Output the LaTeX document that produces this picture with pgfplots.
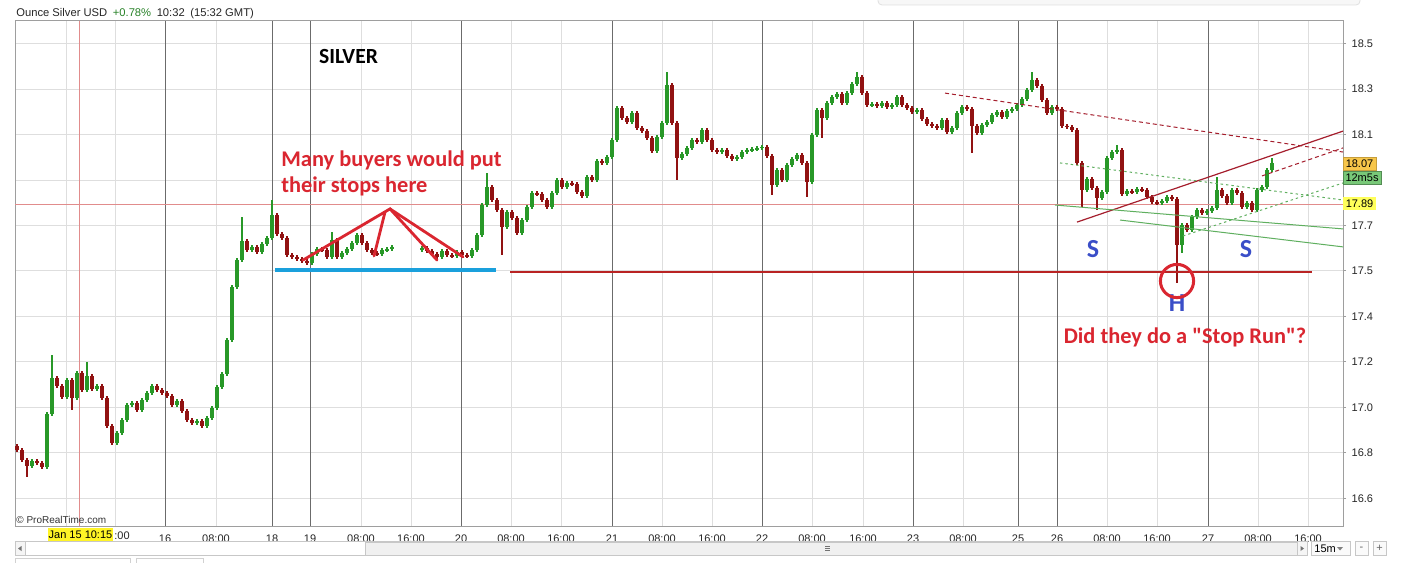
\documentclass[border=0pt]{standalone}
\usepackage{pgfplots}
\pgfplotsset{compat=1.18}
\usepackage{pgfplotstable}
\usepackage{fontspec}
\setmainfont{Liberation Sans}
\newfontfamily\calibri{Carlito}
\definecolor{upg}{RGB}{40,152,40}
\definecolor{dnr}{RGB}{145,18,18}
\definecolor{hdrgreen}{RGB}{40,130,40}
\definecolor{annred}{RGB}{218,38,48}
\definecolor{sblue}{RGB}{58,78,200}
\definecolor{trend}{RGB}{165,30,45}
\definecolor{tgreen}{RGB}{95,175,95}
\definecolor{hline}{RGB}{185,35,35}
\definecolor{cross}{RGB}{225,140,140}
\definecolor{stopblue}{RGB}{26,160,220}
\definecolor{boxorange}{RGB}{247,198,74}
\definecolor{boxgreen}{RGB}{120,200,120}
\definecolor{boxyellow}{RGB}{255,255,90}

\pgfplotstableread{
x o h l c
0 16.830 16.838 16.804 16.812
1 16.812 16.820 16.760 16.768
2 16.768 16.776 16.693 16.742
3 16.742 16.772 16.734 16.764
4 16.764 16.772 16.747 16.755
5 16.755 16.763 16.729 16.737
6 16.737 16.978 16.729 16.970
7 16.970 17.230 16.962 17.129
8 17.129 17.137 17.086 17.094
9 17.094 17.102 17.037 17.045
10 17.045 17.128 17.037 17.120
11 17.120 17.128 16.988 17.041
12 17.041 17.159 17.033 17.151
13 17.151 17.159 17.068 17.076
14 17.076 17.199 17.068 17.138
15 17.138 17.146 17.072 17.080
16 17.080 17.102 17.072 17.094
17 17.094 17.102 17.033 17.041
18 17.041 17.049 16.910 16.918
19 16.918 16.926 16.835 16.843
20 16.843 16.895 16.835 16.887
21 16.887 16.952 16.879 16.944
22 16.944 17.018 16.936 17.010
23 17.010 17.027 17.002 17.019
24 17.019 17.027 16.980 16.988
25 16.988 17.040 16.980 17.032
26 17.032 17.071 17.024 17.063
27 17.063 17.102 17.055 17.094
28 17.094 17.102 17.068 17.076
29 17.076 17.084 17.055 17.063
30 17.063 17.071 17.042 17.050
31 17.050 17.058 17.002 17.010
32 17.010 17.036 17.002 17.028
33 17.028 17.036 16.976 16.984
34 16.984 16.992 16.936 16.944
35 16.944 16.952 16.923 16.931
36 16.931 16.948 16.923 16.940
37 16.940 16.948 16.910 16.918
38 16.918 16.961 16.910 16.953
39 16.953 17.005 16.945 16.997
40 16.997 17.097 16.989 17.089
41 17.089 17.154 17.081 17.146
42 17.146 17.304 17.138 17.296
43 17.296 17.537 17.288 17.529
44 17.529 17.656 17.521 17.648
45 17.648 17.837 17.640 17.732
46 17.732 17.740 17.684 17.692
47 17.692 17.713 17.684 17.705
48 17.705 17.713 17.675 17.683
49 17.683 17.726 17.675 17.718
50 17.718 17.753 17.710 17.745
51 17.745 17.912 17.737 17.846
52 17.846 17.854 17.754 17.762
53 17.762 17.770 17.737 17.745
54 17.745 17.753 17.662 17.670
55 17.670 17.678 17.653 17.661
56 17.661 17.669 17.644 17.652
57 17.652 17.660 17.636 17.644
58 17.644 17.652 17.627 17.635
59 17.635 17.682 17.627 17.674
60 17.674 17.704 17.666 17.696
61 17.696 17.704 17.684 17.692
62 17.692 17.700 17.653 17.661
63 17.661 17.771 17.653 17.736
64 17.736 17.744 17.653 17.661
65 17.661 17.687 17.653 17.679
66 17.679 17.704 17.671 17.696
67 17.696 17.731 17.688 17.723
68 17.723 17.766 17.715 17.758
69 17.758 17.766 17.715 17.723
70 17.723 17.731 17.684 17.692
71 17.692 17.700 17.671 17.679
72 17.679 17.687 17.666 17.674
73 17.674 17.700 17.666 17.692
74 17.692 17.704 17.684 17.696
75 17.696 17.713 17.688 17.705
81 17.692 17.709 17.684 17.701
82 17.701 17.709 17.680 17.688
83 17.688 17.696 17.666 17.674
84 17.674 17.682 17.653 17.661
85 17.661 17.696 17.653 17.688
86 17.688 17.696 17.662 17.670
87 17.670 17.678 17.658 17.666
88 17.666 17.691 17.658 17.683
89 17.683 17.691 17.662 17.670
90 17.670 17.678 17.658 17.666
91 17.666 17.700 17.658 17.692
92 17.692 17.766 17.684 17.758
93 17.758 17.898 17.750 17.890
94 17.890 18.031 17.882 17.969
95 17.969 17.977 17.904 17.912
96 17.912 17.920 17.860 17.868
97 17.868 17.876 17.670 17.793
98 17.793 17.867 17.785 17.859
99 17.859 17.867 17.825 17.833
100 17.833 17.841 17.759 17.767
101 17.767 17.832 17.759 17.824
102 17.824 17.889 17.816 17.881
103 17.881 17.951 17.873 17.943
104 17.943 17.951 17.930 17.938
105 17.938 17.946 17.904 17.912
106 17.912 17.920 17.873 17.881
107 17.881 17.951 17.873 17.943
108 17.943 18.008 17.935 18.000
109 18.000 18.008 17.961 17.969
110 17.969 17.995 17.961 17.987
111 17.987 17.995 17.974 17.982
112 17.982 17.990 17.939 17.947
113 17.947 17.955 17.922 17.930
114 17.930 18.021 17.922 18.013
115 18.013 18.021 17.992 18.000
116 18.000 18.092 17.992 18.084
117 18.084 18.092 18.067 18.075
118 18.075 18.109 18.067 18.101
119 18.101 18.184 18.093 18.176
120 18.176 18.325 18.168 18.317
121 18.317 18.325 18.265 18.273
122 18.273 18.281 18.247 18.255
123 18.255 18.303 18.247 18.295
124 18.295 18.303 18.221 18.229
125 18.229 18.237 18.208 18.216
126 18.216 18.224 18.177 18.185
127 18.185 18.193 18.120 18.128
128 18.128 18.197 18.120 18.189
129 18.189 18.259 18.181 18.251
130 18.251 18.475 18.243 18.418
131 18.418 18.426 18.243 18.251
132 18.251 18.259 18.000 18.097
133 18.097 18.122 18.089 18.114
134 18.114 18.149 18.106 18.141
135 18.141 18.184 18.133 18.176
136 18.176 18.184 18.159 18.167
137 18.167 18.228 18.159 18.220
138 18.220 18.228 18.168 18.176
139 18.176 18.184 18.124 18.132
140 18.132 18.140 18.115 18.123
141 18.123 18.140 18.115 18.132
142 18.132 18.140 18.098 18.106
143 18.106 18.114 18.084 18.092
144 18.092 18.109 18.084 18.101
145 18.101 18.131 18.093 18.123
146 18.123 18.140 18.115 18.132
147 18.132 18.144 18.124 18.136
148 18.136 18.149 18.128 18.141
149 18.141 18.153 18.133 18.145
150 18.145 18.153 18.098 18.106
151 18.106 18.114 17.934 17.978
152 17.978 18.052 17.970 18.044
153 18.044 18.052 17.992 18.000
154 18.000 18.074 17.992 18.066
155 18.066 18.100 18.058 18.092
156 18.092 18.118 18.084 18.110
157 18.110 18.118 18.067 18.075
158 18.075 18.083 17.925 17.991
159 17.991 18.206 17.983 18.198
160 18.198 18.316 18.190 18.308
161 18.308 18.316 18.185 18.273
162 18.273 18.347 18.265 18.339
163 18.339 18.373 18.331 18.365
164 18.365 18.386 18.357 18.378
165 18.378 18.386 18.331 18.339
166 18.339 18.391 18.331 18.383
167 18.383 18.430 18.375 18.422
168 18.422 18.475 18.414 18.453
169 18.453 18.461 18.375 18.383
170 18.383 18.391 18.322 18.330
171 18.330 18.342 18.322 18.334
172 18.334 18.342 18.318 18.326
173 18.326 18.347 18.318 18.339
174 18.339 18.347 18.313 18.321
175 18.321 18.338 18.313 18.330
176 18.330 18.373 18.322 18.365
177 18.365 18.373 18.322 18.330
178 18.330 18.338 18.309 18.317
179 18.317 18.325 18.291 18.299
180 18.299 18.316 18.291 18.308
181 18.308 18.316 18.260 18.268
182 18.268 18.276 18.238 18.246
183 18.246 18.254 18.230 18.238
184 18.238 18.246 18.221 18.229
185 18.229 18.272 18.221 18.264
186 18.264 18.272 18.203 18.211
187 18.211 18.237 18.203 18.229
188 18.229 18.303 18.221 18.295
189 18.295 18.329 18.287 18.321
190 18.321 18.329 18.304 18.312
191 18.312 18.320 18.119 18.238
192 18.238 18.246 18.199 18.207
193 18.207 18.250 18.199 18.242
194 18.242 18.263 18.234 18.255
195 18.255 18.294 18.247 18.286
196 18.286 18.307 18.278 18.299
197 18.299 18.307 18.269 18.277
198 18.277 18.312 18.269 18.304
199 18.304 18.320 18.296 18.312
200 18.312 18.338 18.304 18.330
201 18.330 18.364 18.322 18.356
202 18.356 18.404 18.348 18.396
203 18.396 18.475 18.388 18.440
204 18.440 18.448 18.406 18.414
205 18.414 18.422 18.344 18.352
206 18.352 18.360 18.287 18.295
207 18.295 18.329 18.287 18.321
208 18.321 18.329 18.304 18.312
209 18.312 18.320 18.230 18.238
210 18.238 18.246 18.225 18.233
211 18.233 18.241 18.212 18.220
212 18.220 18.228 18.067 18.075
213 18.075 18.083 17.881 17.956
214 17.956 18.012 17.948 18.004
215 18.004 18.012 17.957 17.965
216 17.965 17.973 17.868 17.921
217 17.921 17.955 17.913 17.947
218 17.947 18.105 17.939 18.097
219 18.097 18.131 18.089 18.123
220 18.123 18.154 18.115 18.132
221 18.132 18.140 17.930 17.938
222 17.938 17.960 17.930 17.952
223 17.952 17.960 17.939 17.947
224 17.947 17.968 17.939 17.960
225 17.960 17.968 17.948 17.956
226 17.956 17.964 17.917 17.925
227 17.925 17.933 17.895 17.903
228 17.903 17.911 17.891 17.899
229 17.899 17.916 17.891 17.908
230 17.908 17.933 17.900 17.925
231 17.925 17.933 17.908 17.916
232 17.916 17.924 17.547 17.714
233 17.714 17.810 17.680 17.802
234 17.802 17.810 17.772 17.780
235 17.780 17.845 17.772 17.837
236 17.837 17.876 17.829 17.868
237 17.868 17.876 17.847 17.855
238 17.855 17.872 17.847 17.864
239 17.864 17.885 17.856 17.877
240 17.877 18.013 17.869 17.956
241 17.956 17.964 17.922 17.930
242 17.930 17.938 17.891 17.899
243 17.899 17.964 17.891 17.956
244 17.956 17.964 17.935 17.943
245 17.943 17.951 17.873 17.881
246 17.881 17.907 17.873 17.899
247 17.899 17.907 17.860 17.868
248 17.868 17.964 17.860 17.956
249 17.956 17.977 17.948 17.969
250 17.969 18.052 17.961 18.044
251 18.044 18.097 18.036 18.075
}\candles

\begin{document}
\begin{tikzpicture}
\useasboundingbox (0,0) rectangle (700.5pt,281pt);
\fill[white] (0,0) rectangle (700.5pt,281pt);
\begin{axis}[
  at={(7.5pt,18pt)}, anchor=south west,
  scale only axis, width=664pt, height=252.5pt,
  xmin=-0.4, xmax=265.2, ymin=16.479, ymax=18.699,
  axis line style={draw=black!38, line width=0.5pt},
  grid=major,
  grid style={draw=black!13, line width=0.5pt},
  xtick={9.8,19.6,29.6,39.8,51,58.6,68.8,78.8,88.8,98.8,108.8,119,129,139,149,159,169.2,179.2,189.2,200.2,208,218,228,238.2,248.2,258.2},
  xticklabels={{},{},16,08:00,18,19,08:00,16:00,20,08:00,16:00,21,08:00,16:00,22,08:00,16:00,23,08:00,25,26,08:00,16:00,27,08:00,16:00},
  xtick style={draw=none},
  xticklabel style={font=\fontsize{5.5}{6}\selectfont, text=black!85, yshift=0.6pt},
  extra x ticks={29.6,51,58.6,88.8,119,149,179.2,200.2,208,238.2},
  extra x tick labels={},
  extra x tick style={grid style={draw=black!58, line width=0.5pt}, xtick style={draw=none}},
  ytick={16.6,16.8,17.0,17.2,17.4,17.6,17.8,18.0,18.2,18.4,18.6},
  yticklabels={16.6,16.8,17.0,17.2,17.4,17.5,17.7,{},18.1,18.3,18.5},
  ytick pos=right, yticklabel pos=right,
  tick align=outside, major tick length=1.6pt,
  ytick style={draw=black!38, line width=0.5pt},
  yticklabel style={font=\fontsize{5.5}{6}\selectfont, text=black!85, xshift=-0.8pt},
]
% crosshair
\draw[cross, line width=0.45pt] (axis cs:-0.4,17.8945) -- (axis cs:265.2,17.8945);
\draw[cross, line width=0.45pt] (axis cs:12.4,16.479) -- (axis cs:12.4,18.699);
% wicks
\addplot[draw=none, mark=none, forget plot, error bars/.cd, y dir=both, y explicit, error mark=none,
  error bar style={draw=upg, line width=0.6pt}]
  table[x expr={\thisrow{c}>=\thisrow{o} ? \thisrow{x} : -50}, y expr={(\thisrow{h}+\thisrow{l})/2}, y error expr={(\thisrow{h}-\thisrow{l})/2}]{\candles};
\addplot[draw=none, mark=none, forget plot, error bars/.cd, y dir=both, y explicit, error mark=none,
  error bar style={draw=dnr, line width=0.6pt}]
  table[x expr={\thisrow{c}<\thisrow{o} ? \thisrow{x} : -50}, y expr={(\thisrow{h}+\thisrow{l})/2}, y error expr={(\thisrow{h}-\thisrow{l})/2}]{\candles};
% bodies
\addplot[draw=none, mark=none, forget plot, error bars/.cd, y dir=both, y explicit, error mark=none,
  error bar style={draw=upg, line width=2.2pt}]
  table[x expr={\thisrow{c}>=\thisrow{o} ? \thisrow{x} : -50}, y expr={(\thisrow{o}+\thisrow{c})/2}, y error expr={max(abs(\thisrow{c}-\thisrow{o})/2,0.003)}]{\candles};
\addplot[draw=none, mark=none, forget plot, error bars/.cd, y dir=both, y explicit, error mark=none,
  error bar style={draw=dnr, line width=2.2pt}]
  table[x expr={\thisrow{c}<\thisrow{o} ? \thisrow{x} : -50}, y expr={(\thisrow{o}+\thisrow{c})/2}, y error expr={max(abs(\thisrow{c}-\thisrow{o})/2,0.003)}]{\candles};
% horizontal levels
\draw[hline, line width=0.6pt] (axis cs:98.6,17.596) -- (axis cs:259,17.596);
\draw[stopblue, line width=2.2pt] (axis cs:51.6,17.604) -- (axis cs:95.8,17.604);
% annotation lines
\draw[annred, line width=1.4pt, line cap=round] (axis cs:57.2,17.648) -- (axis cs:74.6,17.873) -- (axis cs:84,17.648);
\draw[annred, line width=1.4pt, line cap=round] (axis cs:73.6,17.859) -- (axis cs:71.4,17.666);
\draw[annred, line width=1.4pt, line cap=round] (axis cs:74.6,17.873) -- (axis cs:89.2,17.662);
% trend lines
\draw[trend, line width=0.5pt, dash pattern=on 2pt off 1.5pt] (axis cs:185.6,18.382) -- (axis cs:265.2,18.123);
\draw[trend, line width=0.5pt, dash pattern=on 2pt off 1.5pt] (axis cs:249,18.018) -- (axis cs:265.2,18.141);
\draw[trend, line width=0.6pt] (axis cs:212,17.815) -- (axis cs:265.2,18.215);
\draw[tgreen, line width=0.5pt] (axis cs:207.6,17.890) -- (axis cs:265.2,17.785);
\draw[tgreen, line width=0.5pt] (axis cs:220.6,17.824) -- (axis cs:265.2,17.706);
\draw[tgreen, line width=0.5pt, dash pattern=on 1.2pt off 1.5pt] (axis cs:208.6,18.075) -- (axis cs:265.2,17.912);
\draw[tgreen, line width=0.5pt, dash pattern=on 1.2pt off 1.5pt] (axis cs:233.2,17.754) -- (axis cs:265.2,17.987);
\end{axis}

\begin{scope}[x=0.5pt, y=-0.5pt, shift={(0pt,281pt)}]
% header
\node[anchor=base west, inner sep=0, font=\fontsize{5.6}{6}\selectfont, text=black!85] at (16,17) {Ounce Silver USD\enspace\textcolor{hdrgreen}{+0.78\%}\enspace 10:32\enspace (15:32 GMT)};
\draw[black!12, fill=black!3, rounded corners=2pt] (878,-8) rectangle (1360,5);
% texts
\node[font=\calibri\bfseries\fontsize{10.8}{12}\selectfont] at (348.5,56) {SILVER};
\node[anchor=base west, inner sep=0, font=\calibri\bfseries\fontsize{11.2}{12}\selectfont, text=annred] at (281,166.5) {Many buyers would put};
\node[anchor=base west, inner sep=0, font=\calibri\bfseries\fontsize{11.2}{12}\selectfont, text=annred] at (281,193) {their stops here};
\node[font=\calibri\bfseries\fontsize{11.2}{12}\selectfont, text=annred] at (1185,337) {Did they do a "Stop Run"?};
\node[font=\calibri\bfseries\fontsize{13}{14}\selectfont, text=sblue] at (1093,249) {S};
\node[font=\calibri\bfseries\fontsize{13}{14}\selectfont, text=sblue] at (1246,249) {S};
\node[font=\calibri\bfseries\fontsize{13}{14}\selectfont, text=sblue] at (1177,303) {H};
\draw[annred, line width=1.5pt] (1177,281) circle[radius=8.3pt];
% right value boxes
\draw[boxorange!80!black, fill=boxorange, line width=0.4pt] (1343,157.5) rectangle (1376,170.5);
\node[font=\fontsize{5.5}{6}\selectfont] at (1359.5,164) {18.07};
\draw[boxgreen!70!black, fill=boxgreen, line width=0.4pt] (1343,171.5) rectangle (1381,184.5);
\node[font=\fontsize{5.5}{6}\selectfont] at (1362,178) {12m5s};
\fill[boxyellow] (1343,197.5) rectangle (1376,210.5);
\node[font=\fontsize{5.5}{6}\selectfont] at (1359.5,204) {17.89};
% copyright
\node[anchor=base west, inner sep=0, font=\fontsize{5}{6}\selectfont, text=black!80] at (16,523) {\textcopyright\ ProRealTime.com};
% time marker
\fill[yellow!85!white] (48,528) rectangle (113,541.5);
\node[font=\fontsize{5.5}{6}\selectfont] at (80.5,534.8) {Jan 15 10:15};
\node[anchor=west, inner sep=0, font=\fontsize{5.5}{6}\selectfont, text=black!85] at (114,535.3) {:00};
% scrollbar
\draw[black!22, fill=white, line width=0.4pt] (15,541.5) rectangle (1307,555.5);
\draw[black!22, fill=black!6, line width=0.4pt] (365,542) rectangle (1297,555);
\draw[black!22, fill=black!4, line width=0.4pt] (15,541.5) rectangle (25,555.5);
\fill[black!55] (18,548.5) -- (21.5,546) -- (21.5,551) -- cycle;
\draw[black!22, fill=black!4, line width=0.4pt] (1297,541.5) rectangle (1307,555.5);
\fill[black!55] (1304,548.5) -- (1300.5,546) -- (1300.5,551) -- cycle;
\draw[black!55, line width=0.35pt] (825,546.5) -- (830,546.5) (825,548.5) -- (830,548.5) (825,550.5) -- (830,550.5);
\draw[black!22, fill=black!2, line width=0.4pt] (1311,541.5) rectangle (1350,555.5);
\node[anchor=west, inner sep=0, font=\fontsize{5.5}{6}\selectfont] at (1314,548.5) {15m};
\fill[black!50] (1337,547) -- (1343,547) -- (1340,550.5) -- cycle;
\draw[black!22, fill=black!2, line width=0.4pt] (1355,541.5) rectangle (1368,555.5);
\node[font=\fontsize{5.5}{6}\selectfont, text=black!60] at (1361.5,548.5) {-};
\draw[black!22, fill=black!2, line width=0.4pt] (1373,541.5) rectangle (1386,555.5);
\node[font=\fontsize{5.5}{6}\selectfont, text=black!60] at (1379.5,548.5) {+};
\draw[black!18, line width=0.4pt] (15,566) -- (15,558.5) -- (130,558.5) -- (130,566);
\draw[black!18, line width=0.4pt] (136,566) -- (136,558.5) -- (203,558.5) -- (203,566);
\end{scope}
\end{tikzpicture}
\end{document}
